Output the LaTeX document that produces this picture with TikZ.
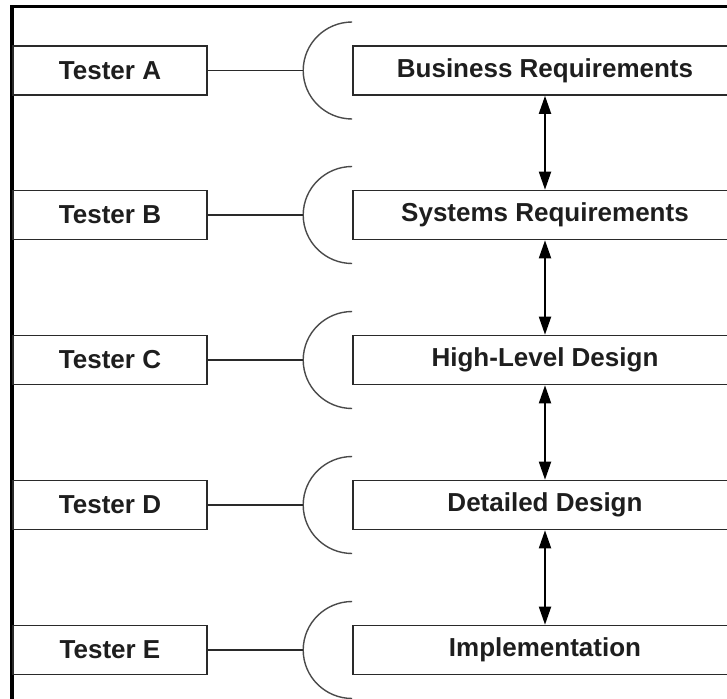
\documentclass[tikz,border=0pt]{standalone}
\usepackage{fontspec}
\setmainfont{Liberation Sans}
\usetikzlibrary{arrows.meta}
\definecolor{edge}{HTML}{2A2A2A}
\definecolor{ink}{HTML}{1E1E1E}
\begin{document}
\begin{tikzpicture}[x=1pt,y=-1pt,
  tbox/.style={draw=edge, line width=1.6pt, minimum width=194pt, minimum height=49pt,
    inner sep=0pt, text=ink, font=\fontsize{26}{30}\selectfont\bfseries},
  pbox/.style={draw=edge, line width=1.6pt, minimum width=384pt, minimum height=49pt,
    inner sep=0pt, text=ink, font=\fontsize{26}{30}\selectfont\bfseries},
  link/.style={draw=edge, line width=1.5pt},
  cup/.style={draw=edge!85, line width=1.4pt},
  dbl/.style={draw=black, line width=1.9pt, {Triangle[length=18pt,width=12pt]}-{Triangle[length=18pt,width=12pt]}},
  frame/.style={draw=black, line width=3.2pt}]
\useasboundingbox (0,0) rectangle (727,698);
\clip (0,0) rectangle (727,698);
\draw[frame] (12,710) -- (12,6.3) -- (740,6.3);
\foreach \i/\t/\p/\y in {1/A/Business Requirements/70.5, 2/B/Systems Requirements/215, 3/C/High-Level Design/360, 4/D/Detailed Design/505, 5/E/Implementation/650}{
  \node[tbox] (t\i) at (110,\y) {Tester \t};
  \node[pbox] (p\i) at (545,\y) {\p};
  \coordinate (c\i) at ([xshift=-49pt]p\i.west);
  \draw[cup] ([yshift=48.5pt]p\i.west) arc[start angle=90, end angle=270, x radius=49pt, y radius=48.5pt];
  \draw[link] (t\i.east) -- (c\i);
}
\foreach \a/\b in {1/2,2/3,3/4,4/5}{
  \draw[dbl] (p\a.south) -- (p\b.north);
}
\end{tikzpicture}
\end{document}
